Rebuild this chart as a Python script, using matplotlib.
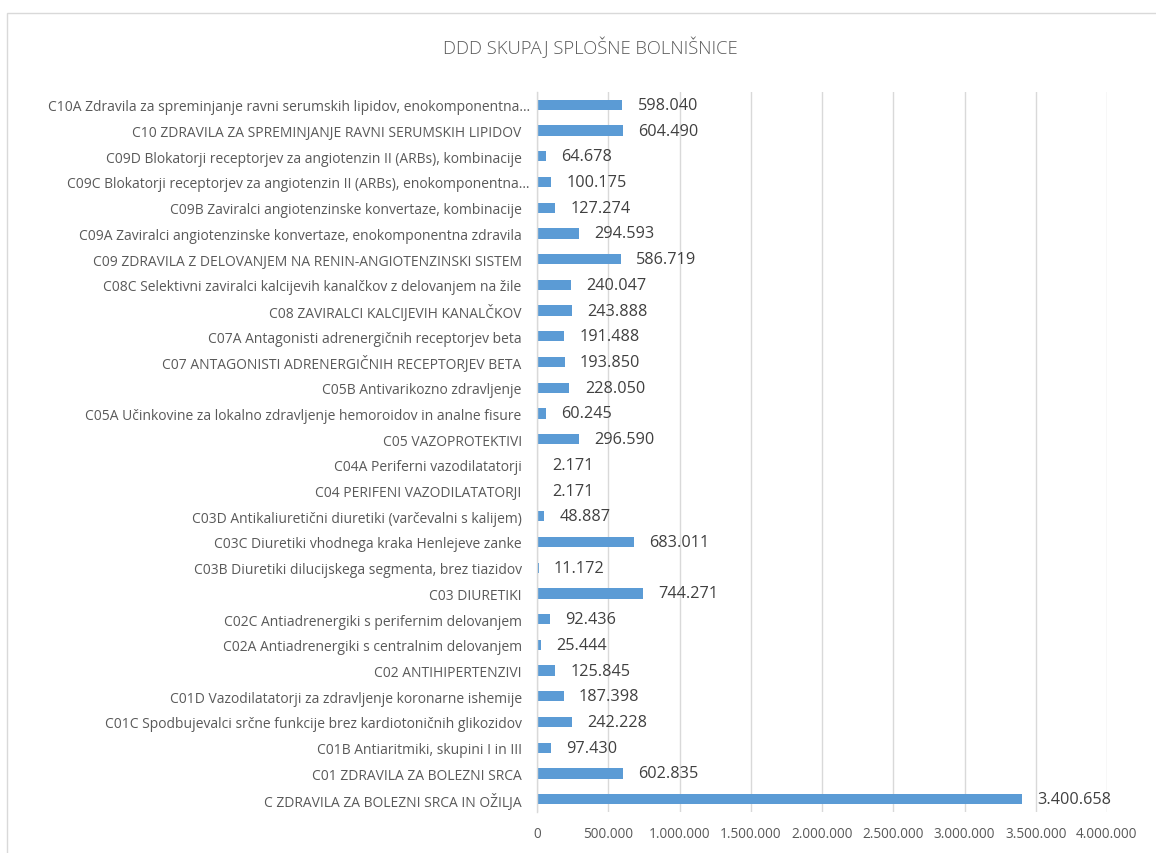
import matplotlib
matplotlib.use("Agg")
import matplotlib.pyplot as plt
import matplotlib.transforms as mtransforms
from matplotlib.patches import Rectangle

categories = [
    "C ZDRAVILA ZA BOLEZNI SRCA IN OŽILJA",
    "C01 ZDRAVILA ZA BOLEZNI SRCA",
    "C01B Antiaritmiki, skupini I in III",
    "C01C Spodbujevalci srčne funkcije brez kardiotoničnih glikozidov",
    "C01D Vazodilatatorji za zdravljenje koronarne ishemije",
    "C02 ANTIHIPERTENZIVI",
    "C02A Antiadrenergiki s centralnim delovanjem",
    "C02C Antiadrenergiki s perifernim delovanjem",
    "C03 DIURETIKI",
    "C03B Diuretiki dilucijskega segmenta, brez tiazidov",
    "C03C Diuretiki vhodnega kraka Henlejeve zanke",
    "C03D Antikaliuretični diuretiki (varčevalni s kalijem)",
    "C04 PERIFENI VAZODILATATORJI",
    "C04A Periferni vazodilatatorji",
    "C05 VAZOPROTEKTIVI",
    "C05A Učinkovine za lokalno zdravljenje hemoroidov in analne fisure",
    "C05B Antivarikozno zdravljenje",
    "C07 ANTAGONISTI ADRENERGIČNIH RECEPTORJEV BETA",
    "C07A Antagonisti adrenergičnih receptorjev beta",
    "C08 ZAVIRALCI KALCIJEVIH KANALČKOV",
    "C08C Selektivni zaviralci kalcijevih kanalčkov z delovanjem na žile",
    "C09 ZDRAVILA Z DELOVANJEM NA RENIN-ANGIOTENZINSKI SISTEM",
    "C09A Zaviralci angiotenzinske konvertaze, enokomponentna zdravila",
    "C09B Zaviralci angiotenzinske konvertaze, kombinacije",
    "C09C Blokatorji receptorjev za angiotenzin II (ARBs), enokomponentna…",
    "C09D Blokatorji receptorjev za angiotenzin II (ARBs), kombinacije",
    "C10 ZDRAVILA ZA SPREMINJANJE RAVNI SERUMSKIH LIPIDOV",
    "C10A Zdravila za spreminjanje ravni serumskih lipidov, enokomponentna…",
]
values = [
    3400658, 602835, 97430, 242228, 187398, 125845, 25444, 92436,
    744271, 11172, 683011, 48887, 2171, 2171, 296590, 60245, 228050,
    193850, 191488, 243888, 240047, 586719, 294593, 127274, 100175,
    64678, 604490, 598040,
]
x_ticks = [0, 500000, 1000000, 1500000, 2000000, 2500000, 3000000, 3500000, 4000000]
title = "DDD SKUPAJ SPLOŠNE BOLNIŠNICE"


def fmt(v):
    return f"{v:,}".replace(",", ".")


plt.rcParams["font.family"] = ["Open Sans", "DejaVu Sans"]
text_col = "#595959"
bar_col = "#5B9BD5"
grid_col = "#D9D9D9"

W, H = 1156, 854
fig = plt.figure(figsize=(W / 100, H / 100), dpi=100)
fig.patch.set_facecolor("white")

# chart area border
fig.patches.append(Rectangle((7 / W, -0.05), 1.1, 1 - 14 / H + 0.05,
                             transform=fig.transFigure, fill=False,
                             edgecolor=grid_col, linewidth=1.0))

n = len(categories)
ax_left, ax_right = 537 / W, 1107 / W
ax_top = 1 - 93 / H
ax_bottom = 1 - 813 / H
ax = fig.add_axes([ax_left, ax_bottom, ax_right - ax_left, ax_top - ax_bottom])

ypos = list(range(n))
ax.barh(ypos, values, height=0.4, color=bar_col, zorder=3)
ax.set_xlim(0, 4000000)
ax.set_ylim(-0.5, n - 0.5)

ax.set_xticks(x_ticks)
ax.set_xticklabels([fmt(t) for t in x_ticks], fontsize=9.8, color=text_col)
ax.set_yticks(ypos)
ax.set_yticklabels(categories, fontsize=10.0, color=text_col)
ax.tick_params(axis="both", length=0)
ax.tick_params(axis="x", pad=10)
ax.tick_params(axis="y", pad=11)

# truncated labels sit slightly closer to the axis
shift = mtransforms.ScaledTranslation(8 / 100, 0, fig.dpi_scale_trans)
for lbl in ax.get_yticklabels():
    if lbl.get_text().endswith("…"):
        lbl.set_transform(lbl.get_transform() + shift)

ax.grid(axis="x", color=grid_col, linewidth=1.0, zorder=0)
for s in ["top", "right", "bottom"]:
    ax.spines[s].set_visible(False)
ax.spines["left"].set_color(grid_col)
ax.spines["left"].set_linewidth(1.0)
ax.spines["left"].set_zorder(4)

for y, v in zip(ypos, values):
    ax.annotate(fmt(v), xy=(v, y), xytext=(11, 0), textcoords="offset points",
                va="center", ha="left", fontsize=11.7, color="#404040")

fig.text(590 / W, 1 - 47 / H, title, ha="center", va="center",
         fontsize=13.2, color=text_col, fontweight="light")

fig.savefig("out.png", dpi=100, facecolor="white")
